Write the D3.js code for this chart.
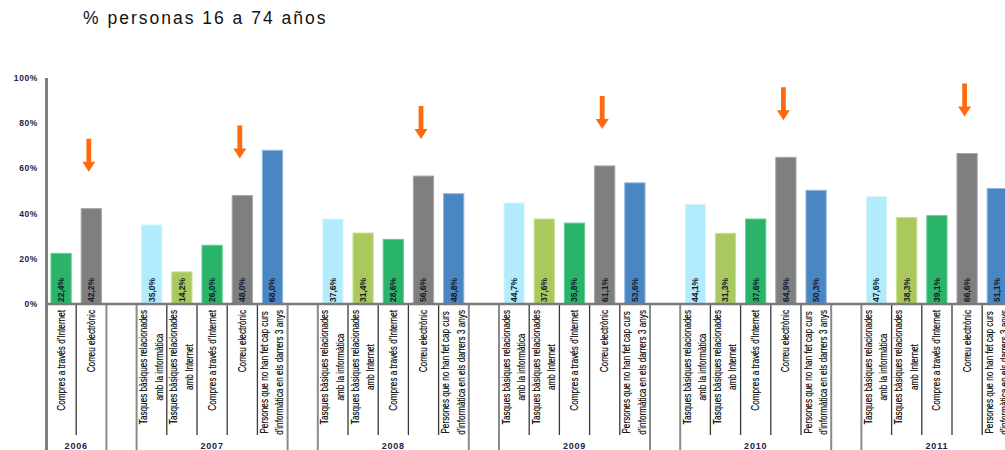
<!DOCTYPE html>
<html>
<head>
<meta charset="utf-8">
<script src="https://cdn.jsdelivr.net/npm/d3@7"></script>
<style>
  html, body { margin: 0; padding: 0; background: #ffffff; }
  svg { display: block; }
</style>
</head>
<body>
<svg id="chart" width="1005" height="450"></svg>
<script>
// Survey years and indicators (share of people aged 16-74)
const years = ["2006", "2007", "2008", "2009", "2010", "2011"];
const seriesNames = [
  ["Tasques bàsiques relacionades", "amb la informàtica"],
  ["Tasques bàsiques relacionades", "amb Internet"],
  ["Compres a través d'Internet"],
  ["Correu electrònic"],
  ["Persones que no han fet cap curs", "d'informàtica en els darrers 3 anys"]
];
// One array per year, in the order of seriesNames (null = not surveyed)
const values2006 = [null, null, 22.4, 42.2, null];
const values2007 = [35.0, 14.2, 26.0, 48.0, 68.0];
const values2008 = [37.6, 31.4, 28.6, 56.6, 48.8];
const values2009 = [44.7, 37.6, 35.8, 61.1, 53.6];
const values2010 = [44.1, 31.3, 37.6, 64.9, 50.3];
const values2011 = [47.6, 38.3, 39.1, 66.6, 51.1];
const valuesByYear = [values2006, values2007, values2008, values2009, values2010, values2011];
const yTicks = [0, 20, 40, 60, 80, 100];
const highlightSeries = 3; // e-mail bars get an arrow

const colors = ["#b2ebfb", "#a9c95f", "#2ab46a", "#7f7f7f", "#4a87c2"];
const strokes = ["#d6f5fd", "#c9e08f", "#5fcf93", "#a6a6a6", "#8fb5dc"];

// Build the ordered slot list: bars of each year followed by an empty slot
const slots = [];
years.forEach((yr, i) => {
  valuesByYear[i].forEach((v, s) => {
    if (v !== null) slots.push({ key: yr + "-" + s, year: yr, s: s, v: v });
  });
  if (i < years.length - 1) slots.push({ key: "gap-" + yr, gap: true });
});

const svg = d3.select("#chart");
const x0 = 46, step = 30.2;
const x = d3.scaleBand()
  .domain(slots.map(d => d.key))
  .range([x0, x0 + slots.length * step])
  .padding(0);
const y = d3.scaleLinear().domain([0, 100]).range([304, 78]);
const barW = x.bandwidth() * 0.67;

// Title
svg.append("text")
  .attr("x", 83).attr("y", 24)
  .attr("font-family", "Liberation Sans, Arial, sans-serif")
  .attr("font-size", 17.5)
  .attr("letter-spacing", 2.0)
  .attr("fill", "#111")
  .text("% personas 16 a 74 años");

// Y axis labels
svg.append("g").selectAll("text")
  .data(yTicks).join("text")
  .attr("x", 38).attr("y", d => y(d))
  .attr("dy", "0.35em")
  .attr("text-anchor", "end")
  .attr("font-family", "Liberation Sans, Arial, sans-serif")
  .attr("font-size", 8.5)
  .attr("font-weight", "bold")
  .attr("letter-spacing", 0.6)
  .attr("fill", "#1c2444")
  .text(d => d + "%");

// Category table lines under the baseline
const boundaries = [];
slots.forEach((d, i) => {
  if (i === 0) return;
  const prev = slots[i - 1];
  const full = d.gap || prev.gap;
  boundaries.push({ x: x(d.key), full: full });
});
svg.append("g").selectAll("line")
  .data(boundaries).join("line")
  .attr("x1", d => d.x).attr("x2", d => d.x)
  .attr("y1", 304)
  .attr("y2", d => d.full ? 450 : 435)
  .attr("stroke", d => d.full ? "#8a8a8a" : "#3a3a3a")
  .attr("stroke-width", d => d.full ? 2 : 1.3);

// Bars
const bars = slots.filter(d => !d.gap);
svg.append("g").selectAll("rect")
  .data(bars).join("rect")
  .attr("x", d => x(d.key) + (x.bandwidth() - barW) / 2)
  .attr("y", d => y(d.v))
  .attr("width", barW)
  .attr("height", d => y(0) - y(d.v))
  .attr("fill", d => colors[d.s])
  .attr("stroke", d => strokes[d.s])
  .attr("stroke-width", 1);

// Axes lines
svg.append("line")
  .attr("x1", x0 + 0.5).attr("x2", x0 + 0.5)
  .attr("y1", y(100)).attr("y2", 450)
  .attr("stroke", "#808080").attr("stroke-width", 3);
svg.append("line")
  .attr("x1", x0).attr("x2", 1005)
  .attr("y1", y(0)).attr("y2", y(0))
  .attr("stroke", "#7a7a7a").attr("stroke-width", 2.5);

// Value labels inside the bars
svg.append("g").selectAll("text")
  .data(bars).join("text")
  .attr("transform", d => `translate(${x(d.key) + x.bandwidth() / 2},302) rotate(-90)`)
  .attr("dy", "0.35em")
  .attr("text-anchor", "start")
  .attr("font-family", "Liberation Sans, Arial, sans-serif")
  .attr("font-size", 8.5)
  .attr("font-weight", "bold")
  .attr("fill", "#141a2a")
  .text(d => d.v.toFixed(1).replace(".", ",") + "%");

// Category labels, rotated, end-aligned under the baseline
const catG = svg.append("g");
bars.forEach(d => {
  const lines = seriesNames[d.s];
  const cx = x(d.key) + x.bandwidth() / 2;
  const g = catG.append("g")
    .attr("transform", `translate(${cx},310) rotate(-90) scale(0.82,1)`);
  const offs = lines.length === 1 ? [0] : [-8, 7.5];
  const texts = lines.map((t, k) => g.append("text")
    .attr("y", offs[k])
    .attr("dy", "0.35em")
    .attr("text-anchor", "middle")
    .attr("font-family", "Liberation Sans, Arial, sans-serif")
    .attr("font-size", 10)
    .attr("fill", "#000")
    .attr("stroke", "#000")
    .attr("stroke-width", 0.15)
    .text(t));
  const maxW = d3.max(texts, t => t.node().getComputedTextLength());
  texts.forEach(t => t.attr("x", -maxW / 2));
});

// Year labels centred under each group
years.forEach(yr => {
  const ks = slots.filter(d => d.year === yr);
  const left = x(ks[0].key);
  const right = x(ks[ks.length - 1].key) + x.bandwidth();
  svg.append("text")
    .attr("x", (left + right) / 2).attr("y", 449)
    .attr("text-anchor", "middle")
    .attr("font-family", "Liberation Sans, Arial, sans-serif")
    .attr("font-size", 9)
    .attr("font-weight", "bold")
    .attr("letter-spacing", 0.8)
    .attr("fill", "#1c2444")
    .text(yr);
});

// Orange arrows pointing at the e-mail bars
const arrowData = bars.filter(d => d.s === highlightSeries);
const arrowPath = d => {
  const cx = x(d.key) + x.bandwidth() / 2 - 2.5;
  const tip = y(d.v) - 37;
  const top = tip - 33, headH = 10, shaft = 2.4, head = 6.5;
  return `M${cx - shaft},${top} L${cx + shaft},${top} L${cx + shaft},${tip - headH}
          L${cx + head},${tip - headH} L${cx},${tip} L${cx - head},${tip - headH}
          L${cx - shaft},${tip - headH} Z`;
};
svg.append("g").selectAll("path")
  .data(arrowData).join("path")
  .attr("d", arrowPath)
  .attr("fill", "#ff6a10");
</script>
</body>
</html>
